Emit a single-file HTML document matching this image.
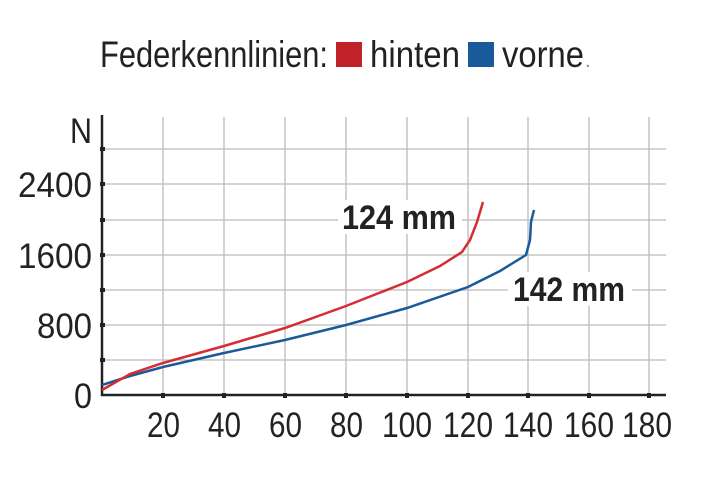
<!DOCTYPE html>
<html><head><meta charset="utf-8"><style>
body{margin:0;background:#fff;}
svg text{font-family:"Liberation Sans Narrow","Liberation Sans",sans-serif;}
</style></head><body>
<svg width="712" height="481" viewBox="0 0 712 481" xmlns="http://www.w3.org/2000/svg">
<text x="100" y="67" font-size="37" fill="#222" textLength="228" lengthAdjust="spacingAndGlyphs">Federkennlinien:</text>
<rect x="336" y="42" width="26" height="25" fill="#c0222a"/>
<text x="370" y="67" font-size="37" fill="#222" textLength="90" lengthAdjust="spacingAndGlyphs">hinten</text>
<rect x="468" y="42" width="26" height="25" fill="#1a5a9a"/>
<text x="502" y="67" font-size="37" fill="#222" textLength="82" lengthAdjust="spacingAndGlyphs">vorne</text>
<text x="585" y="67" font-size="20" fill="#888">.</text>
<g stroke="#bbb" stroke-width="1.3">
<line x1="102" y1="149" x2="666" y2="149"/><line x1="102" y1="184" x2="666" y2="184"/>
<line x1="102" y1="220" x2="666" y2="220"/><line x1="102" y1="255" x2="666" y2="255"/>
<line x1="102" y1="290" x2="666" y2="290"/><line x1="102" y1="325" x2="666" y2="325"/>
<line x1="102" y1="360" x2="666" y2="360"/>
<line x1="163" y1="117" x2="163" y2="395"/><line x1="224" y1="117" x2="224" y2="395"/>
<line x1="285" y1="117" x2="285" y2="395"/><line x1="346" y1="117" x2="346" y2="395"/>
<line x1="407" y1="117" x2="407" y2="395"/><line x1="468" y1="117" x2="468" y2="395"/>
<line x1="528" y1="117" x2="528" y2="395"/><line x1="589" y1="117" x2="589" y2="395"/>
<line x1="649" y1="117" x2="649" y2="395"/>
</g>
<rect x="338" y="200" width="124" height="34" fill="#fff"/>
<rect x="508" y="272" width="124" height="34" fill="#fff"/>
<g stroke="#222" stroke-width="2.5"><line x1="102" y1="115" x2="102" y2="396"/><line x1="101" y1="395" x2="666" y2="395"/></g>
<g fill="#222">
<rect x="100" y="147" width="5" height="4"/><rect x="100" y="182" width="5" height="4"/><rect x="100" y="218" width="5" height="4"/><rect x="100" y="253" width="5" height="4"/><rect x="100" y="288" width="5" height="4"/><rect x="100" y="323" width="5" height="4"/><rect x="100" y="358" width="5" height="4"/>
<rect x="161" y="393" width="4" height="5"/><rect x="222" y="393" width="4" height="5"/><rect x="283" y="393" width="4" height="5"/><rect x="344" y="393" width="4" height="5"/><rect x="405" y="393" width="4" height="5"/><rect x="466" y="393" width="4" height="5"/><rect x="526" y="393" width="4" height="5"/><rect x="587" y="393" width="4" height="5"/><rect x="647" y="393" width="4" height="5"/>
</g>
<g font-size="35" fill="#222">
<text x="70" y="143" textLength="22" lengthAdjust="spacingAndGlyphs">N</text>
<text x="18" y="197" textLength="74" lengthAdjust="spacingAndGlyphs">2400</text>
<text x="18" y="268" textLength="74" lengthAdjust="spacingAndGlyphs">1600</text>
<text x="37" y="338" textLength="55" lengthAdjust="spacingAndGlyphs">800</text>
<text x="74" y="408" textLength="18" lengthAdjust="spacingAndGlyphs">0</text>
</g>
<g font-size="35" fill="#222">
<text x="147" y="437" textLength="33" lengthAdjust="spacingAndGlyphs">20</text>
<text x="208" y="437" textLength="33" lengthAdjust="spacingAndGlyphs">40</text>
<text x="269" y="437" textLength="33" lengthAdjust="spacingAndGlyphs">60</text>
<text x="330" y="437" textLength="33" lengthAdjust="spacingAndGlyphs">80</text>
<text x="382" y="437" textLength="50" lengthAdjust="spacingAndGlyphs">100</text>
<text x="443" y="437" textLength="50" lengthAdjust="spacingAndGlyphs">120</text>
<text x="503" y="437" textLength="50" lengthAdjust="spacingAndGlyphs">140</text>
<text x="564" y="437" textLength="50" lengthAdjust="spacingAndGlyphs">160</text>
<text x="622" y="437" textLength="50" lengthAdjust="spacingAndGlyphs">180</text>
</g>
<g font-size="34" font-weight="bold" fill="#222">
<text x="342" y="229" textLength="114" lengthAdjust="spacingAndGlyphs">124 mm</text>
<text x="513" y="301" textLength="112" lengthAdjust="spacingAndGlyphs">142 mm</text>
</g>
<polyline fill="none" stroke="#1a5a9a" stroke-width="2.5" points="102,385 130,376 163,367 224,353 285,340 346,325 407,308 468,287 500,271 526,255 530,240 531,222 534,210"/>
<polyline fill="none" stroke="#d42e34" stroke-width="2.5" points="102,390 130,374 163,363 224,346 285,328 346,306 407,282 440,266 462,252 470,240 477,222 483,202"/>
</svg>
</body></html>
